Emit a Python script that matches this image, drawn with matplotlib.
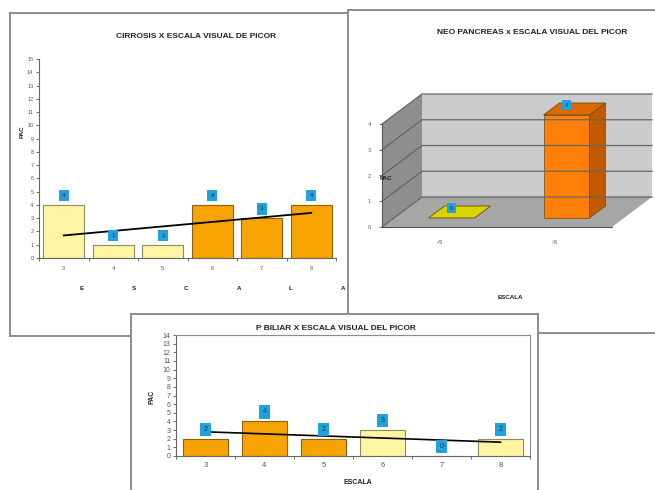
import numpy as np
import matplotlib.pyplot as plt

plt.rcParams['font.family'] = ['Liberation Sans', 'DejaVu Sans']

# --- datos: pacientes por escala visual de picor ---
cir_escala = ['3', '4', '5', '6', '7', '8']
cir_pac = [4, 1, 1, 4, 3, 4]
cir_grupo = ['bajo', 'bajo', 'bajo', 'alto', 'alto', 'alto']
cir_tendencia = [1.7, 3.4]   # extremos de la linea de tendencia

neo_escala = ['<5', '>5']
neo_pac = [0, 4]

bil_escala = ['3', '4', '5', '6', '7', '8']
bil_pac = [2, 4, 2, 3, 0, 2]
bil_grupo = ['alto', 'alto', 'alto', 'bajo', 'bajo', 'bajo']
bil_tendencia = [2.8, 1.6]

COLOR_BARRA = {'bajo': '#FFF5A3', 'alto': '#F7A400'}
BORDE_BARRA = {'bajo': '#8F8A5A', 'alto': '#8A6212'}
AZUL_ETIQ = '#22A2DC'
GRIS_MARCO = '#8c8c8c'
GRIS_TXT = '#555555'

W, H = 655, 490


def caja(izq, arriba, der, abajo):
    # pasa un rectangulo en pixeles (origen arriba-izquierda) a coords de figura
    return [izq / W, 1 - abajo / H, (der - izq) / W, (abajo - arriba) / H]


def marco(izq, arriba, der, abajo, z):
    m = fig.add_axes(caja(izq, arriba, der, abajo), zorder=z)
    m.set_xticks([])
    m.set_yticks([])
    m.set_facecolor('white')
    for s in m.spines.values():
        s.set_color(GRIS_MARCO)
        s.set_linewidth(1.4)
    return m


def texto(m, x, y, s, **kw):
    kw.setdefault('ha', 'center')
    kw.setdefault('va', 'center')
    kw.setdefault('fontweight', 'bold')
    kw.setdefault('color', '#222222')
    m.text(x / W, 1 - y / H, s, transform=fig.transFigure, **kw)


def etiqueta(ax, x, y, valor, tam=4.5, pad=0.4):
    ax.text(x, y, str(valor), ha='center', va='center', fontsize=tam,
            color='#1a2a50', clip_on=False, zorder=5,
            bbox=dict(boxstyle=f'square,pad={pad}', fc=AZUL_ETIQ, ec='none'))


def ejes_barras(ax, ymax, tam):
    ax.set_facecolor('none')
    ax.set_xlim(-0.5, 5.5)
    ax.set_ylim(0, ymax)
    ax.set_yticks(range(ymax + 1))
    ax.set_xticks(np.arange(-0.5, 6, 1), minor=True)
    ax.tick_params(axis='y', labelsize=tam, colors=GRIS_TXT, length=2, width=0.6, pad=2)
    ax.tick_params(axis='x', which='major', length=0, labelsize=tam + 0.5, colors=GRIS_TXT)
    ax.tick_params(axis='x', which='minor', length=2, width=0.6, color=GRIS_TXT)
    for s in ax.spines.values():
        s.set_color('#666666')
        s.set_linewidth(0.8)


fig = plt.figure(figsize=(6.55, 4.9), dpi=100)
fig.patch.set_facecolor('white')

# ---------------- cirrosis ----------------
m1 = marco(10, 13, 370, 336, 1)
texto(m1, 196, 37, 'CIRROSIS X ESCALA VISUAL DE PICOR', fontsize=6)
texto(m1, 22, 132, 'PAC', fontsize=4.5, rotation=90)
for letra, xp in zip('ESCALA', np.linspace(82, 343, 6)):
    texto(m1, xp, 288, letra, fontsize=4.5)

ax1 = fig.add_axes(caja(39, 59, 336, 258), zorder=2)
x1 = np.arange(len(cir_pac))
ax1.bar(x1, cir_pac, width=0.82,
        color=[COLOR_BARRA[g] for g in cir_grupo],
        edgecolor=[BORDE_BARRA[g] for g in cir_grupo], linewidth=0.8)
ejes_barras(ax1, 15, 4)
ax1.set_xticks(x1, cir_escala)
ax1.tick_params(axis='x', which='major', pad=6, labelsize=4)
ax1.spines['top'].set_visible(False)
ax1.spines['right'].set_visible(False)
ax1.plot([x1[0], x1[-1]], cir_tendencia, color='black', lw=1.3)
for xi, v in zip(x1, cir_pac):
    etiqueta(ax1, xi, v + 0.7, v, pad=0.5)

# ---------------- neo pancreas (barras en perspectiva) ----------------
m2 = marco(348, 10, 670, 333, 3)
texto(m2, 532, 32, 'NEO PANCREAS x ESCALA VISUAL DEL PICOR', fontsize=6)
texto(m2, 510, 297, 'ESCALA', fontsize=4.5)

ax2 = fig.add_axes(caja(382, 124, 612, 227), zorder=4)
ax2.set_facecolor('none')
n2 = len(neo_pac)
ymax2 = 4
ax2.set_xlim(0, n2)
ax2.set_ylim(0, ymax2)
# desplazamiento de profundidad en unidades de datos (40 px a la derecha, 30 px arriba)
DX = 40 / (230 / n2)
DY = 30 / (103 / ymax2)


def proy(x, y, z):
    return x + z * DX, y + z * DY


def poligono(puntos, fc, ec='none', lw=0.0):
    xs, ys = zip(*[proy(*p) for p in puntos])
    ax2.fill(xs, ys, fc=fc, ec=ec, lw=lw, clip_on=False)


poligono([(0, 0, 1), (n2, 0, 1), (n2, ymax2, 1), (0, ymax2, 1)], '#CBCBCB')
poligono([(0, 0, 0), (0, 0, 1), (0, ymax2, 1), (0, ymax2, 0)], '#8E8E8E')
poligono([(0, 0, 0), (n2, 0, 0), (n2, 0, 1), (0, 0, 1)], '#A6A6A6')
for v in range(ymax2 + 1):
    xs, ys = zip(*[proy(0, v, 0), proy(0, v, 1), proy(n2, v, 1)])
    ax2.plot(xs, ys, color='#666666', lw=0.9, clip_on=False)

caras = [('#E4D800', '#A89E00', '#DCD200'), ('#FF8008', '#C45A00', '#DD6A00')]
zf, zb, ancho = 0.3, 0.7, 0.4
for i, v in enumerate(neo_pac):
    frente, lado, tapa = caras[i]
    x0, x1b = i + 0.5 - ancho / 2, i + 0.5 + ancho / 2
    borde = '#6a4a10'
    if v > 0:
        poligono([(x0, 0, zf), (x1b, 0, zf), (x1b, v, zf), (x0, v, zf)], frente, borde, 0.5)
        poligono([(x1b, 0, zf), (x1b, 0, zb), (x1b, v, zb), (x1b, v, zf)], lado, borde, 0.5)
    poligono([(x0, v, zf), (x1b, v, zf), (x1b, v, zb), (x0, v, zb)], tapa, borde, 0.6)
    ex, ey = proy(i + 0.5, v + 0.38, zf)
    etiqueta(ax2, ex, ey, v, tam=4, pad=0.45)

texto(ax2, 386, 178, 'PAC', fontsize=4.5, zorder=6)

ax2.set_yticks(range(ymax2 + 1))
ax2.set_xticks(np.arange(n2) + 0.5, neo_escala)
ax2.tick_params(axis='y', labelsize=4, colors=GRIS_TXT, length=2, width=0.6, pad=6)
ax2.tick_params(axis='x', labelsize=4, colors=GRIS_TXT, length=0, pad=9)
ax2.spines['top'].set_visible(False)
ax2.spines['right'].set_visible(False)
for s in ('left', 'bottom'):
    ax2.spines[s].set_color('#555555')
    ax2.spines[s].set_linewidth(0.8)

# ---------------- p biliar ----------------
m3 = marco(131, 314, 538, 500, 5)
texto(m3, 336, 328, 'P BILIAR X ESCALA VISUAL DEL PICOR', fontsize=6)
texto(m3, 152, 397, 'PAC', fontsize=5, rotation=90)
texto(m3, 358, 482, 'ESCALA', fontsize=5)

ax3 = fig.add_axes(caja(176, 335, 530, 456), zorder=6)
x3 = np.arange(len(bil_pac))
ax3.bar(x3, bil_pac, width=0.77,
        color=[COLOR_BARRA[g] for g in bil_grupo],
        edgecolor=[BORDE_BARRA[g] for g in bil_grupo], linewidth=0.8)
ejes_barras(ax3, 14, 5)
ax3.set_xticks(x3, bil_escala)
ax3.tick_params(axis='x', which='major', pad=4)
ax3.spines['top'].set_color(GRIS_MARCO)
ax3.spines['right'].set_color(GRIS_MARCO)
ax3.plot([x3[0], x3[-1]], bil_tendencia, color='black', lw=1.2)
for xi, v in zip(x3, bil_pac):
    etiqueta(ax3, xi, v + 1.1, v, tam=5, pad=0.45)

fig.savefig('out.png', dpi=100, facecolor='white')
